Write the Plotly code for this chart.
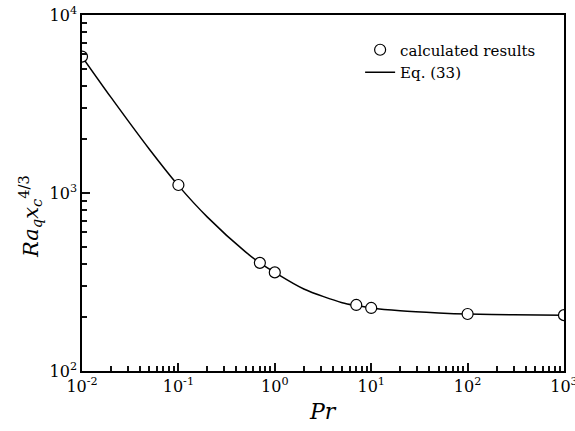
import plotly.graph_objects as go

# calculated results
pr_calc = [0.01, 0.1, 0.7, 1, 7, 10, 100, 1000]
ra_calc = [5840, 1109, 405, 358, 235, 226, 209, 206]

# Eq. (33) curve
pr_eq = [0.01, 0.02, 0.05, 0.1, 0.2, 0.5, 0.7, 1, 2, 5, 7, 10, 20, 50, 100, 300, 1000]
ra_eq = [5840, 3444, 1761, 1100, 732, 465, 405, 358, 289, 242, 233, 226, 218, 212, 209, 207, 206]

x_ticks = [0.01, 0.1, 1, 10, 100, 1000]
x_ticktext = ["10<sup>-2</sup>", "10<sup>-1</sup>", "10<sup>0</sup>", "10<sup>1</sup>",
              "10<sup>2</sup>", "10<sup>3</sup>"]
y_ticks = [100, 1000, 10000]
y_ticktext = ["10<sup>2</sup>", "10<sup>3</sup>", "10<sup>4</sup>"]

FONT = "DejaVu Serif"

XR = [-2, 3]
YR = [2, 4]

fig = go.Figure()
fig.add_trace(go.Scatter(
    x=pr_eq, y=ra_eq, mode="lines", name="Eq. (33)",
    line=dict(color="black", width=1.5, shape="spline", smoothing=0.8),
))
fig.add_trace(go.Scatter(
    x=pr_calc, y=ra_calc, mode="markers", name="calculated results",
    marker=dict(symbol="circle", size=11, color="white",
                line=dict(color="black", width=1.2)),
))

axis_common = dict(
    type="log", showgrid=False, zeroline=False, automargin=False,
    showline=True, linecolor="black", linewidth=1.6, mirror=True,
    ticks="inside", ticklen=8, tickwidth=2, tickcolor="#111111",
    tickfont=dict(family=FONT, size=16, color="black"),
    ticklabeloverflow="allow",
)
minor_common = dict(ticks="inside", ticklen=5, tickwidth=2, tickcolor="#111111",
                    dtick="D1", showgrid=False)

fig.update_layout(
    width=575, height=431,
    margin=dict(l=82, r=11, t=15, b=60, autoexpand=False),
    plot_bgcolor="white", paper_bgcolor="white",
    font=dict(family=FONT, color="black"),
    showlegend=True,
    xaxis=dict(**axis_common, range=XR, tickvals=x_ticks, ticktext=x_ticktext,
               tickmode="array", minor=minor_common),
    yaxis=dict(**axis_common, range=YR, tickvals=y_ticks, ticktext=y_ticktext,
               tickmode="array", minor=minor_common),
    legend=dict(
        x=0.577, y=0.948, xanchor="left", yanchor="top",
        bgcolor="rgba(0,0,0,0)", borderwidth=0,
        font=dict(family=FONT, size=15, color="black"),
        traceorder="reversed", itemwidth=30, tracegroupgap=0,
    ),
    annotations=[
        dict(text="<i>Pr</i>", x=0.5, y=-0.115, xref="paper", yref="paper",
             showarrow=False, font=dict(family=FONT, size=22, color="black"),
             xanchor="center", yanchor="middle"),
        dict(text="<i>Ra</i><sub><i>q</i></sub><i>x</i><sub><i>c</i></sub><sup>4/3</sup>",
             x=-0.108, y=0.435, xref="paper", yref="paper", textangle=-90,
             showarrow=False, font=dict(family=FONT, size=21, color="black"),
             xanchor="center", yanchor="middle"),
    ],
)

fig.write_html("out.html")
